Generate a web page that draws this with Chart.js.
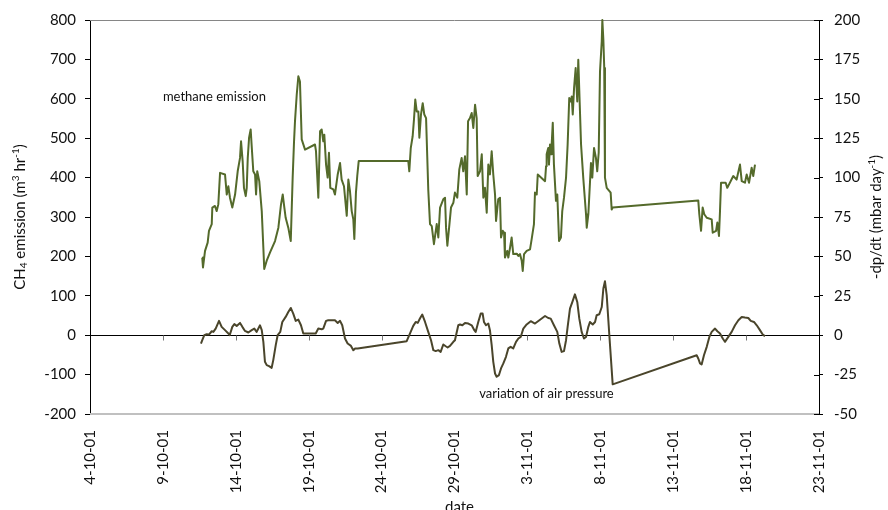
<!DOCTYPE html>
<html>
<head>
<meta charset="utf-8">
<script src="https://cdn.jsdelivr.net/npm/chart.js@4.4.1/dist/chart.umd.min.js"></script>
<style>
  html, body { margin: 0; padding: 0; background: #fff; }
  #wrap { width: 888px; height: 510px; position: relative; }
</style>
</head>
<body>
<div id="wrap"><canvas id="c" width="888" height="510"></canvas></div>
<script>
// Date axis: one labelled tick every 5 days, day 0 = 4 Oct 2001
const tickLabels = ['4-10-01', '9-10-01', '14-10-01', '19-10-01', '24-10-01', '29-10-01',
                    '3-11-01', '8-11-01', '13-11-01', '18-11-01', '23-11-01'];

// Methane emission, m3/hr (left axis); x in days since 4-10-01
const methaneDays = [
  7.70,7.75,7.89,8.07,8.16,8.35,8.39,8.57,8.69,8.80,
  8.92,9.26,9.38,9.49,9.60,9.76,9.95,10.13,10.29,10.36,
  10.47,10.56,10.68,10.75,10.82,10.91,11.02,11.09,11.20,11.32,
  11.39,11.47,11.61,11.78,11.89,11.95,12.12,12.35,12.69,12.92,
  13.10,13.22,13.33,13.42,13.60,13.77,13.90,13.99,14.06,14.18,
  14.29,14.40,14.52,14.75,15.43,15.50,15.66,15.78,15.89,16.00,
  16.07,16.19,16.30,16.39,16.48,16.69,16.80,16.99,17.15,17.26,
  17.42,17.61,17.72,17.83,17.95,18.06,18.13,18.24,18.33,18.43,
  21.83,21.90,22.00,22.13,22.22,22.31,22.41,22.52,22.59,22.70,
  22.82,22.93,23.05,23.20,23.32,23.44,23.59,23.78,23.89,24.01,
  24.23,24.35,24.42,24.51,24.64,24.76,24.92,25.03,25.19,25.33,
  25.49,25.60,25.72,25.84,25.93,26.06,26.18,26.29,26.41,26.52,
  26.59,26.75,26.87,26.98,27.09,27.21,27.32,27.43,27.55,27.66,
  27.78,27.85,28.00,28.12,28.19,28.31,28.40,28.46,28.62,28.69,
  28.81,28.92,29.03,29.27,29.38,29.49,29.61,29.68,29.77,29.95,
  30.18,30.29,30.45,30.52,30.64,30.71,31.21,31.28,31.32,31.43,
  31.48,31.55,31.62,31.67,31.74,31.82,31.96,32.05,32.17,32.30,
  32.39,32.51,32.65,32.76,32.87,32.97,33.04,33.11,33.20,33.31,
  33.42,33.49,33.68,33.83,34.02,34.07,34.18,34.36,34.45,34.57,
  34.70,34.79,34.89,34.98,35.10,35.14,35.21,35.27,35.32,35.44,
  35.71,35.78,35.85,41.72,41.79,41.91,42.02,42.13,42.30,42.64,
  42.71,42.94,43.03,43.14,43.21,43.28,43.60,43.71,44.12,44.35,
  44.58,44.70,44.92,45.04,45.20,45.38,45.49,45.61
];
const methaneValues = [
  197,172,214,235,265,282,324,328,315,332,
  412,408,357,378,349,324,357,416,450,492,
  442,374,353,374,450,501,522,480,416,408,
  357,416,391,315,222,168,189,210,239,273,
  332,357,324,298,273,239,400,488,543,611,
  657,644,497,471,484,467,349,518,522,492,
  509,433,400,463,374,370,357,408,437,395,
  378,303,395,366,315,294,244,362,404,442,
  442,416,475,505,547,598,568,568,501,560,
  589,560,551,370,282,277,231,282,248,324,
  345,349,273,227,277,324,336,362,349,421,
  450,416,454,357,543,551,564,526,585,551,
  404,416,459,349,374,311,433,408,467,408,
  357,290,345,349,248,265,260,197,214,197,
  222,248,206,207,201,206,189,163,206,214,
  218,243,282,362,357,408,391,429,459,475,
  433,484,459,488,539,433,341,357,239,248,
  315,349,400,484,602,593,606,560,627,678,
  593,699,484,400,307,273,307,437,400,475,
  450,416,463,670,746,800,750,678,400,374,
  362,319,324,342,307,265,324,307,298,294,
  260,265,286,252,315,387,387,374,404,395,
  433,391,387,408,387,425,404,433
];

// Variation of air pressure, -dp/dt in mbar/day (right axis)
const pressureDays = [
  7.61,7.70,7.84,8.00,8.16,8.35,8.46,8.62,8.85,9.03,
  9.26,9.49,9.58,9.76,9.90,10.06,10.29,10.45,10.63,10.86,
  11.09,11.27,11.43,11.66,11.78,11.89,12.00,12.12,12.28,12.46,
  12.57,12.74,12.87,13.05,13.19,13.42,13.60,13.77,13.94,14.11,
  14.29,14.47,14.63,14.86,15.48,15.66,15.89,16.00,16.19,16.34,
  16.80,16.99,17.15,17.30,17.49,17.67,17.90,18.06,18.18,18.36,
  21.72,21.95,22.17,22.34,22.48,22.63,22.79,22.98,23.20,23.39,
  23.55,23.71,23.89,24.05,24.23,24.40,24.53,24.69,24.92,25.03,
  25.26,25.38,25.54,25.72,25.95,26.18,26.36,26.45,26.63,26.80,
  26.93,27.02,27.16,27.32,27.43,27.55,27.66,27.78,27.89,28.05,
  28.19,28.35,28.53,28.69,28.85,29.03,29.22,29.38,29.54,29.72,
  29.95,30.23,30.52,30.82,31.21,31.43,31.60,31.82,32.05,32.19,
  32.35,32.51,32.65,32.76,32.92,33.11,33.26,33.42,33.56,33.72,
  33.88,34.02,34.18,34.29,34.48,34.64,34.75,34.93,35.10,35.21,
  35.32,35.44,35.62,35.85,41.61,41.72,41.84,41.95,42.11,42.30,
  42.48,42.64,42.87,43.03,43.21,43.40,43.55,43.78,44.01,44.24,
  44.47,44.70,44.92,45.15,45.32,45.54,45.73,45.95,46.14,46.30
];
const pressureValues = [
  -5.3,-3.2,0,0.6,0.4,2.5,2.1,4.2,9.1,5.3,
  3.2,1.1,0,5.3,7.0,5.9,7.8,5.3,2.7,1.7,
  3.2,4.2,2.1,6.3,3.2,-4.2,-16.9,-19,-19.6,-20.7,
  -15.8,-6.3,0,2.1,8.4,11.6,14.7,17.3,13.7,9.1,
  9.9,6.3,1.1,1.1,1.1,4.2,3.8,4.2,9.1,9.5,
  9.5,7.8,9.1,6.3,-2.1,-5.3,-6.8,-9.5,-8.4,-8.4,
  -3.8,1.1,5.9,8.4,7.8,10.6,13.1,8.4,2.1,-3.2,
  -9.5,-10.1,-9.5,-10.6,-5.9,-7.0,-7.8,-6.8,-4.2,-3.2,
  6.3,6.8,6.3,7.8,7.4,6.3,3.2,2.1,8.4,13.7,
  13.7,8.4,6.3,7.4,3.2,-6.3,-16.9,-24.3,-26.4,-25.3,
  -21.1,-17.9,-13.7,-8.4,-7.4,-8.4,-4.2,-2.1,-1.1,4.2,
  6.8,8.9,7.4,9.5,12.2,10.9,10.5,6.3,2.1,-5.3,
  -10.6,-10.1,-3.2,5.3,16.9,21.8,25.9,21.1,10.5,2.1,
  -2.1,-1.1,5.3,8.4,6.8,8.4,12.7,13.3,17.9,29.6,
  34.2,25.3,0,-31.2,-12.7,-14.8,-17.9,-18.6,-12.7,-7.4,
  -1.1,2.1,4.2,2.5,1.1,-2.1,-4.2,-1.1,2.1,6.3,
  9.5,11.6,11.2,10.9,9.1,8.4,6.3,3.2,0.4,-0.6
];

const FONT = 'Lato, "Open Sans", sans-serif';
const TEXT = '#111';

const toPoints = (xs, ys) => xs.map((d, i) => ({ x: d, y: ys[i] }));

// Draws a run of text pieces, some of them sub/superscript, centred on (cx, cy)
function drawRich(ctx, parts, cx, cy, size, rot) {
  const small = Math.round(size * 0.66);
  ctx.save();
  ctx.translate(cx, cy);
  ctx.rotate(rot);
  ctx.textBaseline = 'middle';
  ctx.textAlign = 'left';
  let w = 0;
  parts.forEach(p => {
    ctx.font = (p.s ? small : size) + 'px ' + FONT;
    w += ctx.measureText(p.t).width;
  });
  let xx = -w / 2;
  parts.forEach(p => {
    ctx.font = (p.s ? small : size) + 'px ' + FONT;
    const dy = p.s === 'sub' ? size * 0.28 : p.s === 'sup' ? -size * 0.3 : 0;
    ctx.fillText(p.t, xx, dy);
    xx += ctx.measureText(p.t).width;
  });
  ctx.restore();
}

const decor = {
  id: 'decor',
  beforeDatasetsDraw(chart) {
    const { ctx, chartArea: a, scales: { x, y, y1 } } = chart;
    ctx.save();
    // plot frame, top and bottom
    ctx.strokeStyle = '#868686';
    ctx.lineWidth = 1;
    ctx.beginPath();
    ctx.moveTo(a.left, Math.round(a.top) + 0.5);
    ctx.lineTo(a.right, Math.round(a.top) + 0.5);
    ctx.stroke();
    ctx.strokeStyle = '#c0c0c0';
    ctx.lineWidth = 2;
    ctx.beginPath();
    ctx.moveTo(a.left, Math.round(a.bottom));
    ctx.lineTo(a.right, Math.round(a.bottom));
    ctx.stroke();
    // zero line with the date tick marks hanging below it
    const y0 = Math.round(y.getPixelForValue(0)) + 0.5;
    ctx.strokeStyle = '#000';
    ctx.lineWidth = 1;
    ctx.beginPath();
    ctx.moveTo(a.left, y0);
    ctx.lineTo(a.right, y0);
    ctx.stroke();
    ctx.strokeStyle = '#777';
    ctx.beginPath();
    for (let i = 1; i < tickLabels.length - 1; i++) {
      const px = Math.round(x.getPixelForValue(i * 5)) + 0.5;
      ctx.moveTo(px, y0);
      ctx.lineTo(px, y0 + 5);
    }
    ctx.stroke();
    // right axis ticks cross the axis line
    ctx.strokeStyle = '#000';
    ctx.beginPath();
    y1.ticks.forEach(t => {
      const py = Math.round(y1.getPixelForValue(t.value)) + 0.5;
      ctx.moveTo(a.right - 5, py);
      ctx.lineTo(a.right, py);
    });
    ctx.stroke();
    ctx.restore();
  },
  afterDraw(chart) {
    const { ctx, chartArea: a, scales: { x, y, y1 } } = chart;
    ctx.save();
    ctx.fillStyle = TEXT;
    const mid = (a.top + a.bottom) / 2;
    drawRich(ctx, [
      { t: 'CH' }, { t: '4', s: 'sub' }, { t: ' emission (m' }, { t: '3', s: 'sup' },
      { t: ' hr' }, { t: '-1', s: 'sup' }, { t: ')' }
    ], 20, mid, 15, -Math.PI / 2);
    drawRich(ctx, [
      { t: '-dp/dt (mbar day' }, { t: '-1', s: 'sup' }, { t: ')' }
    ], 876, mid, 15, -Math.PI / 2);

    // x axis title
    ctx.font = '15px ' + FONT;
    ctx.textAlign = 'center';
    ctx.textBaseline = 'alphabetic';
    ctx.fillText('date', (a.left + a.right) / 2 + 5, 512);

    // series labels
    ctx.font = '13px ' + FONT;
    ctx.textAlign = 'left';
    ctx.textBaseline = 'middle';
    ctx.fillText('methane emission', x.getPixelForValue(5.0), y.getPixelForValue(606));
    ctx.fillText('variation of air pressure', x.getPixelForValue(26.7), y1.getPixelForValue(-37));
    ctx.restore();
  }
};

Chart.defaults.font.family = FONT;
Chart.defaults.font.size = 15;
Chart.defaults.color = TEXT;

new Chart(document.getElementById('c'), {
  type: 'line',
  data: {
    datasets: [
      {
        label: 'methane emission',
        data: toPoints(methaneDays, methaneValues),
        yAxisID: 'y',
        borderColor: '#546a2b',
        borderWidth: 2,
        borderJoinStyle: 'round',
        pointRadius: 0,
        tension: 0,
        clip: 3
      },
      {
        label: 'variation of air pressure',
        data: toPoints(pressureDays, pressureValues),
        yAxisID: 'y1',
        borderColor: '#4a452b',
        borderWidth: 2,
        borderJoinStyle: 'round',
        pointRadius: 0,
        tension: 0
      }
    ]
  },
  options: {
    responsive: false,
    animation: false,
    events: [],
    layout: { padding: { top: 18, left: 0, right: 0, bottom: 0 } },
    plugins: { legend: { display: false }, tooltip: { enabled: false } },
    scales: {
      x: {
        type: 'linear',
        min: 0,
        max: 50,
        position: 'bottom',
        afterFit: s => { s.height = 96; },
        afterBuildTicks: s => { s.ticks = tickLabels.map((_, i) => ({ value: i * 5 })); },
        grid: { display: false, drawTicks: false },
        border: { display: false },
        ticks: {
          autoSkip: false,
          maxRotation: 90,
          minRotation: 90,
          padding: 16,
          color: TEXT,
          font: { size: 15 },
          callback: v => tickLabels[Math.round(v / 5)]
        }
      },
      y: {
        position: 'left',
        min: -200,
        max: 800,
        afterFit: s => { s.width = 90; },
        ticks: { stepSize: 100, padding: 9, color: TEXT, font: { size: 15 } },
        grid: { drawOnChartArea: false, drawTicks: true, tickLength: 5, color: '#000' },
        border: { display: true, color: '#000', width: 1 }
      },
      y1: {
        position: 'right',
        min: -50,
        max: 200,
        afterFit: s => { s.width = 69; },
        ticks: { stepSize: 25, padding: 11, color: TEXT, font: { size: 15 } },
        grid: { drawOnChartArea: false, drawTicks: true, tickLength: 4, color: '#000' },
        border: { display: true, color: '#000', width: 1 }
      }
    }
  },
  plugins: [decor]
});
</script>
</body>
</html>
